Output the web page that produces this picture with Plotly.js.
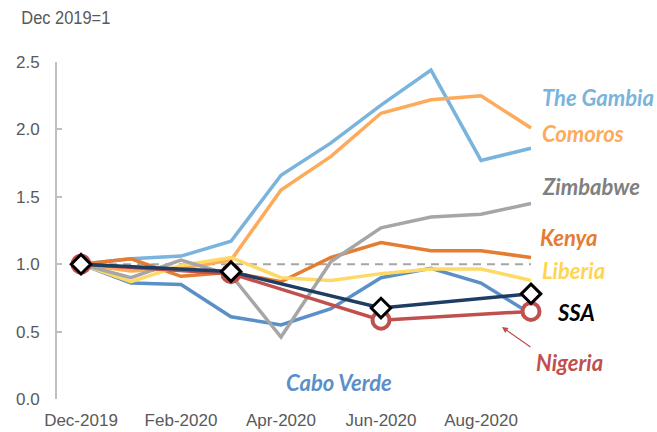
<!DOCTYPE html>
<html>
<head>
<meta charset="utf-8">
<script src="https://cdn.plot.ly/plotly-3.0.1.min.js"></script>
<style>
html,body{margin:0;padding:0;background:#fff;}
#chart{width:657px;height:432px;}
</style>
</head>
<body>
<div id="chart"></div>
<script>
// Months (monthly series)
var months = ["Dec-2019","Jan-2020","Feb-2020","Mar-2020","Apr-2020","May-2020","Jun-2020","Jul-2020","Aug-2020","Sep-2020"];
// Quarterly points (SSA, Nigeria)
var quarters = ["Dec-2019","Mar-2020","Jun-2020","Sep-2020"];
var tickLabels = ["Dec-2019","Feb-2020","Apr-2020","Jun-2020","Aug-2020"];

var gambia    = [1.00, 1.04, 1.06, 1.17, 1.66, 1.90, 2.18, 2.44, 1.77, 1.86];
var comoros   = [1.00, 0.95, 0.97, 1.03, 1.55, 1.80, 2.12, 2.22, 2.25, 2.01];
var caboVerde = [1.00, 0.86, 0.85, 0.61, 0.55, 0.67, 0.90, 0.97, 0.86, 0.63];
var kenya     = [1.00, 1.04, 0.91, 0.94, 0.87, 1.05, 1.16, 1.10, 1.10, 1.05];
var liberia   = [1.00, 0.87, 0.99, 1.05, 0.90, 0.88, 0.93, 0.965, 0.965, 0.88];
var zimbabwe  = [1.00, 0.90, 1.03, 0.92, 0.46, 1.02, 1.27, 1.35, 1.37, 1.45];
var nigeria   = [1.00, 0.93, 0.585, 0.65];
var ssa       = [1.00, 0.945, 0.675, 0.78];
var baseLevel = 1.0;

function line(name, x, y, color){
  return {type:'scatter', mode:'lines', name:name, x:x, y:y,
    line:{color:color, width:3.5}, hoverinfo:'skip'};
}

var traces = [
  line('The Gambia', months, gambia, '#7ab4dc'),
  line('Comoros', months, comoros, '#fdaa5a'),
  line('Cabo Verde', months, caboVerde, '#5b8fc8'),
  line('Kenya', months, kenya, '#e57c31'),
  line('Liberia', months, liberia, '#ffd966'),
  line('Zimbabwe', months, zimbabwe, '#a6a6a6'),
  {type:'scatter', mode:'lines+markers', name:'Nigeria', x:quarters, y:nigeria,
    line:{color:'#c0504d', width:3.5},
    marker:{symbol:'circle', size:17, color:'#ffffff', line:{color:'#c0504d', width:4}}},
  {type:'scatter', mode:'lines+markers', name:'SSA', x:quarters, y:ssa,
    line:{color:'#1f3d63', width:3.5},
    marker:{symbol:'diamond', size:15, color:'#ffffff', line:{color:'#000000', width:3}}}
];

function lbl(text, x, y, color){
  return {text:'<b><i>'+text+'</i></b>', x:x, y:y, xref:'x', yref:'y', xanchor:'left', yanchor:'middle',
    showarrow:false, font:{family:'Lato, "Open Sans", sans-serif', size:22, color:color}};
}

var layout = {
  width:657, height:432,
  margin:{l:57, r:0, t:62, b:33},
  paper_bgcolor:'#ffffff', plot_bgcolor:'#ffffff',
  showlegend:false,
  font:{family:'"Liberation Sans", Arial, sans-serif', size:17, color:'#595959'},
  xaxis:{type:'category', categoryorder:'array', categoryarray:months,
    range:[-0.48, 11.52], showgrid:false, zeroline:false, showline:false, ticks:'',
    tickvals:tickLabels, ticktext:tickLabels, ticklabelstandoff:9,
    tickfont:{size:17, color:'#595959'}},
  yaxis:{range:[0, 2.5], dtick:0.5, tickformat:'.1f', showgrid:false, zeroline:false,
    showline:true, linecolor:'#bfbfbf', linewidth:2, ticks:'inside', ticklen:5, tickwidth:2, tickcolor:'#bfbfbf',
    tickfont:{size:17, color:'#595959'}, ticklabelstandoff:12},
  shapes:[{type:'line', xref:'x', yref:'y', x0:0, x1:9, y0:baseLevel, y1:baseLevel,
    line:{color:'#a6a6a6', width:2, dash:'8px,6px'}, layer:'below'}],
  annotations:[
    {text:'Dec 2019=1', xref:'paper', yref:'paper', x:-0.07, y:1.13, xanchor:'left', yanchor:'middle', showarrow:false,
      font:{size:18, color:'#595959'}},
    lbl('The Gambia', 9.18, 2.24, '#7ab4dc'),
    lbl('Comoros', 9.18, 1.966, '#fdaa5a'),
    lbl('Zimbabwe', 9.18, 1.573, '#808080'),
    lbl('Kenya', 9.14, 1.20, '#e57c31'),
    lbl('Liberia', 9.18, 0.95, '#ffd54f'),
    lbl('SSA', 9.48, 0.645, '#000000'),
    lbl('Nigeria', 9.06, 0.274, '#c0504d'),
    lbl('Cabo Verde', 4.06, 0.126, '#5b8fc8'),
    {text:'', x:8.42, y:0.534, xref:'x', yref:'y', showarrow:true, ax:30, ay:21,
      arrowhead:2, arrowsize:1, arrowwidth:1.2, arrowcolor:'#c0504d'}
  ]
};

Plotly.newPlot('chart', traces, layout, {staticPlot:true, displayModeBar:false}).then(function(){
  var texts = document.querySelectorAll('#chart text');
  texts.forEach(function(t){
    if (t.textContent === 'Dec 2019=1') {
      t.setAttribute('textLength', '89');
      t.setAttribute('lengthAdjust', 'spacingAndGlyphs');
    }
  });
});
</script>
</body>
</html>
